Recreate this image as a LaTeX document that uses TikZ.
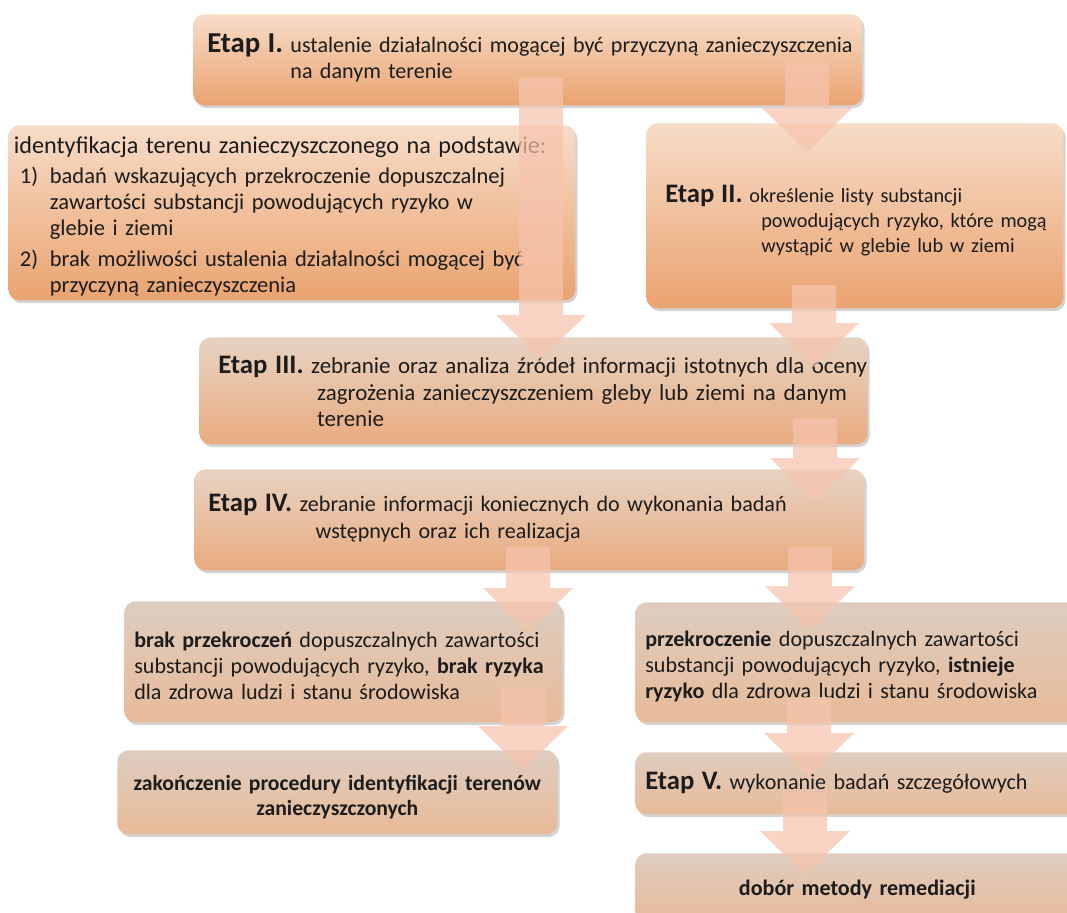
\documentclass[tikz,border=0pt]{standalone}
\usepackage{fontspec}
\setmainfont{Carlito}
\usepackage{tikz}
\usetikzlibrary{calc, positioning, shadows}

\definecolor{textdark}{RGB}{28,28,28}
\definecolor{arrowpink}{RGB}{246,196,174}
\definecolor{warmtop}{RGB}{247,220,200}
\definecolor{warmbot}{RGB}{234,163,112}
\definecolor{midtop}{RGB}{231,211,195}
\definecolor{midbot}{RGB}{233,171,126}
\definecolor{tantop}{RGB}{222,205,192}
\definecolor{tanbot}{RGB}{232,186,152}

\newcommand{\bodyfont}{\fontsize{15.7}{18.5}\selectfont}
\newcommand{\etapfont}{\fontsize{19}{22}\selectfont\bfseries}
\newcommand{\etap}[2]{\mbox{{\etapfont #1}\ \begin{tabular}[t]{@{}l@{}}#2\end{tabular}}}
\newcommand{\blockarrow}[2]{\fill[flowarrow] ($(#1)+(-22,0)$) -- ($(#2)+(-22,-44)$) -- ($(#2)+(-45,-44)$) -- (#2) -- ($(#2)+(45,-44)$) -- ($(#2)+(22,-44)$) -- ($(#1)+(22,0)$) -- cycle;}

\tikzstyle{stage} = [rectangle, rounded corners=8pt, anchor=north west, inner ysep=0pt, align=left, text=textdark, font=\bodyfont, drop shadow={shadow xshift=1.5pt, shadow yshift=-2pt, opacity=0.35}]
\tikzstyle{warmfill} = [top color=warmtop, bottom color=warmbot]
\tikzstyle{midfill} = [top color=midtop, bottom color=midbot]
\tikzstyle{tanfill} = [top color=tantop, bottom color=tanbot]
\tikzstyle{flowarrow} = [fill=arrowpink, fill opacity=0.72]

\begin{document}
\begin{tikzpicture}[x=0.025cm, y=-0.025cm]
	\useasboundingbox (0,0) rectangle (1067,913);

	\node (EtapI) [stage, warmfill, minimum width=16.725cm, minimum height=2.275cm, inner xsep=0.35cm, text width=16.025cm] at (193,14) {\etap{\fontsize{20.5}{22}\selectfont Etap I.}{ustalenie działalności mogącej być przyczyną zanieczyszczenia\\na danym terenie}};
	\node (Identyfikacja) [stage, warmfill, font=\fontsize{16}{18.5}\selectfont, minimum width=14.175cm, minimum height=4.375cm, inner xsep=0.14cm, text width=13.895cm] at (8,125) {%
		\begin{tabular}{@{\hspace{0.15cm}}p{0.75cm}@{}l@{}}
		\multicolumn{2}{@{}l@{}}{\rule{0pt}{20pt}\fontsize{17.2}{19}\selectfont identyfikacja terenu zanieczyszczonego na podstawie:}\\[3pt]
		1) & badań wskazujących przekroczenie dopuszczalnej\\
		   & zawartości substancji powodujących ryzyko w\\
		   & glebie i ziemi\\[3.5pt]
		2) & brak możliwości ustalenia działalności mogącej być\\
		   & przyczyną zanieczyszczenia
		\end{tabular}};
	\node (EtapII) [stage, warmfill, font=\fontsize{14.4}{17.8}\selectfont, minimum width=10.425cm, minimum height=4.625cm, inner xsep=0.475cm, text width=9.475cm] at (646,123) {\rule{0pt}{22pt}\etap{Etap II.}{określenie listy substancji\\\hspace*{0.3cm}powodujących ryzyko, które mogą\\\hspace*{0.3cm}wystąpić w glebie lub w ziemi}};
	\node (EtapIII) [stage, midfill, font=\fontsize{16.3}{18.9}\selectfont, minimum width=16.7cm, minimum height=2.675cm, inner xsep=0.475cm, text width=15.75cm] at (199,337) {\rule{0pt}{19pt}\etap{Etap III.}{zebranie oraz analiza źródeł informacji istotnych dla oceny\\\hspace*{0.15cm}zagrożenia zanieczyszczeniem gleby lub ziemi na danym\\\hspace*{0.15cm}terenie}};
	\node (EtapIV) [stage, midfill, minimum width=16.75cm, minimum height=2.525cm, inner xsep=0.35cm, text width=16.05cm] at (194,469) {\etap{Etap IV.}{zebranie informacji koniecznych do wykonania badań\\\hspace*{0.4cm}wstępnych oraz ich realizacja}};
	\node (Brak) [stage, tanfill, minimum width=10.95cm, minimum height=3.025cm, inner xsep=0.25cm, text width=10.45cm] at (124,601) {\rule{0pt}{17pt}\textbf{brak przekroczeń} dopuszczalnych zawartości\\substancji powodujących ryzyko, \textbf{brak ryzyka}\\dla zdrowa ludzi i stanu środowiska};
	\node (Przekroczenie) [stage, tanfill, minimum width=11.1cm, minimum height=3.0cm, inner xsep=0.25cm, text width=10.6cm] at (635,602) {\rule{0pt}{17pt}\textbf{przekroczenie} dopuszczalnych zawartości\\substancji powodujących ryzyko, \textbf{istnieje}\\\textbf{ryzyko} dla zdrowa ludzi i stanu środowiska};
	\node (Zakonczenie) [stage, tanfill, align=center, font=\fontsize{15.4}{17.5}\selectfont, minimum width=11.0cm, minimum height=2.1cm, inner xsep=0.05cm, text width=10.9cm] at (117,750) {\rule{0pt}{18pt}\textbf{zakończenie procedury identyfikacji terenów}\\\textbf{zanieczyszczonych}};
	\node (EtapV) [stage, tanfill, minimum width=11.1cm, minimum height=1.55cm, inner xsep=0.25cm, text width=10.6cm] at (635,752) {{\etapfont Etap V.}\ wykonanie badań szczegółowych};
	\node (Dobor) [stage, tanfill, align=center, minimum width=11.1cm, minimum height=1.8cm, inner xsep=0.25cm, text width=10.6cm] at (635,853) {\textbf{dobór metody remediacji}};

	% arrow ends
	\coordinate (IStartA) at (541,78);
	\coordinate (IIIEndA) at (541,359);
	\coordinate (IStartB) at (807,63);
	\coordinate (IIEnd) at (807,152);
	\coordinate (IIStart) at (814,285);
	\coordinate (IIIEndB) at (814,367);
	\coordinate (IIIStart) at (815,418);
	\coordinate (IVEnd) at (815,502);
	\coordinate (IVStartA) at (528,547);
	\coordinate (BrakEnd) at (528,632);
	\coordinate (IVStartB) at (810,547);
	\coordinate (PrzekEnd) at (810,630);
	\coordinate (BrakStart) at (523,687);
	\coordinate (ZakEnd) at (523,770);
	\coordinate (PrzekStart) at (809,697);
	\coordinate (VEnd) at (809,777);
	\coordinate (VStart) at (805,793);
	\coordinate (DoborEnd) at (805,875);

	\blockarrow{IStartA}{IIIEndA}
	\blockarrow{IStartB}{IIEnd}
	\blockarrow{IIStart}{IIIEndB}
	\blockarrow{IIIStart}{IVEnd}
	\blockarrow{IVStartA}{BrakEnd}
	\blockarrow{IVStartB}{PrzekEnd}
	\blockarrow{BrakStart}{ZakEnd}
	\blockarrow{PrzekStart}{VEnd}
	\blockarrow{VStart}{DoborEnd}
\end{tikzpicture}
\end{document}
